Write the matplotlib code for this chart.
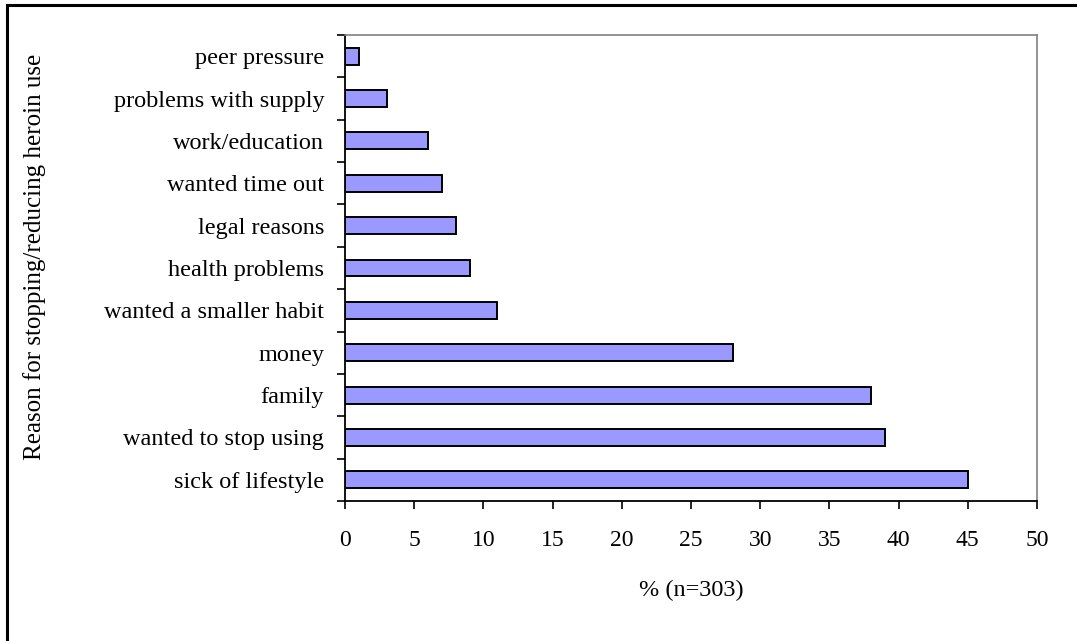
import matplotlib
matplotlib.use("Agg")
import matplotlib.pyplot as plt
from matplotlib.lines import Line2D
import numpy as np

# Reasons for stopping/reducing heroin use, bottom to top
categories = [
    "sick of lifestyle",
    "wanted to stop using",
    "family",
    "money",
    "wanted a smaller habit",
    "health problems",
    "legal reasons",
    "wanted time out",
    "work/education",
    "problems with supply",
    "peer pressure",
]
percent = [45, 39, 38, 28, 11, 9, 8, 7, 6, 3, 1]
x_ticks = [0, 5, 10, 15, 20, 25, 30, 35, 40, 45, 50]

plt.rcParams["font.family"] = ["Liberation Serif", "DejaVu Serif"]

W, H = 1077, 641
fig = plt.figure(figsize=(W / 100, H / 100), dpi=100)
fig.patch.set_facecolor("white")

ax = fig.add_axes([345 / W, 1 - 501 / H, (1037 - 345) / W, (501 - 35) / H])

y = np.arange(len(categories))
ax.barh(y, percent, height=0.4, color="#9999FF", edgecolor="black", linewidth=1.4)

ax.set_xlim(0, 50)
ax.set_ylim(-0.5, len(categories) - 0.5)

ax.set_xticks(x_ticks)
ax.set_xticklabels([str(v) for v in x_ticks], fontsize=17)
ax.tick_params(axis="x", direction="out", length=6, width=1.2, pad=15, color="black")

# Category labels at bar centres, tick marks at category boundaries
ax.set_yticks(y)
ax.set_yticklabels(categories, fontsize=17.5)
ax.set_yticks(np.arange(-0.5, len(categories)), minor=True)
ax.tick_params(axis="y", which="major", length=0, pad=15)
ax.tick_params(axis="y", which="minor", direction="out", length=5.5, width=1.2, color="black")

for side in ("left", "bottom"):
    ax.spines[side].set_color("black")
    ax.spines[side].set_linewidth(1.3)
for side in ("top", "right"):
    ax.spines[side].set_color("#808080")
    ax.spines[side].set_linewidth(1.2)

ax.set_xlabel("% (n=303)", fontsize=17.5, labelpad=21)
fig.text(35 / W, 1 - 257 / H, "Reason for stopping/reducing heroin use",
         fontsize=18, rotation=90, ha="center", va="center")

# Frame around the whole chart
bx, by = 6.5 / W, 1 - 5 / H
fig.add_artist(Line2D([bx, bx, 1.0], [0.0, by, by], transform=fig.transFigure,
                      color="black", linewidth=2.2, solid_joinstyle="miter"))

fig.savefig("out.png", dpi=100, facecolor="white")
